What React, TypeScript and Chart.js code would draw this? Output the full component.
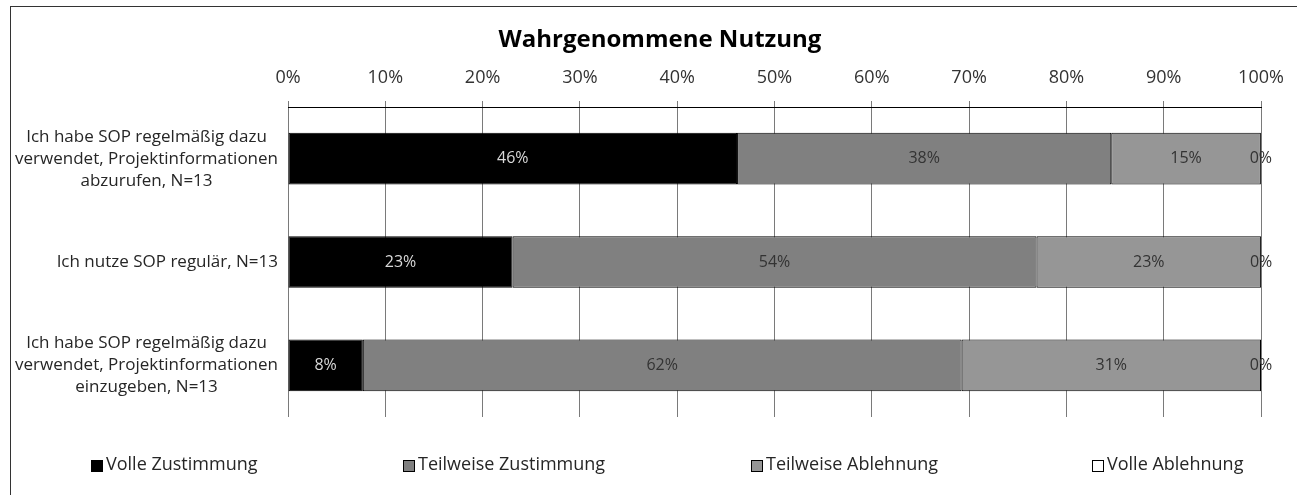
import React, { useEffect, useRef } from 'react';
import { Chart, registerables } from 'chart.js';

Chart.register(...registerables);

const FONT = '"Open Sans", "Noto Sans", sans-serif';

const titleText = 'Wahrgenommene Nutzung';

const categories: (string | string[])[] = [
  ['Ich habe SOP regelmäßig dazu', 'verwendet, Projektinformationen', 'abzurufen, N=13'],
  'Ich nutze SOP regulär, N=13',
  ['Ich habe SOP regelmäßig dazu', 'verwendet, Projektinformationen', 'einzugeben, N=13'],
];

const seriesNames = ['Volle Zustimmung', 'Teilweise Zustimmung', 'Teilweise Ablehnung', 'Volle Ablehnung'];

const volleZustimmung = [46.15, 23.08, 7.69];
const teilweiseZustimmung = [38.46, 53.85, 61.54];
const teilweiseAblehnung = [15.38, 23.08, 30.77];
const volleAblehnung = [0, 0, 0];

const seriesColors = ['#000000', '#808080', '#969696', '#ffffff'];
const labelColors = ['#d9d9d9', '#333333', '#333333', '#333333'];

// legend item centres in canvas pixels
const legendCenters = [163, 493, 833, 1156];

const titlePlugin = {
  id: 'customTitle',
  afterDraw(chart: any) {
    const ctx = chart.ctx;
    ctx.save();
    ctx.font = `bold 24px ${FONT}`;
    ctx.fillStyle = '#000000';
    ctx.textAlign = 'center';
    ctx.textBaseline = 'alphabetic';
    ctx.fillText(titleText, chart.width / 2 - 1, 40);
    ctx.restore();
  },
};

const yLabelPlugin = {
  id: 'yLabels',
  afterDraw(chart: any) {
    const ctx = chart.ctx;
    const yScale = chart.scales.y;
    ctx.save();
    ctx.font = `17px ${FONT}`;
    ctx.fillStyle = '#262626';
    ctx.textAlign = 'center';
    ctx.textBaseline = 'middle';
    const lineH = 22;
    const right = chart.chartArea.left - 10;
    categories.forEach((lab, i) => {
      const lines = Array.isArray(lab) ? lab : [lab];
      const w = Math.max(...lines.map((l) => ctx.measureText(l).width));
      const cx = right - w / 2;
      const cy = yScale.getPixelForTick(i);
      lines.forEach((l, j) => {
        const ly = cy + (j - (lines.length - 1) / 2) * lineH;
        ctx.fillText(l, cx, ly);
      });
    });
    ctx.restore();
  },
};

const dataLabelPlugin = {
  id: 'dataLabelPlugin',
  afterDatasetsDraw(chart: any) {
    const ctx = chart.ctx;
    ctx.save();
    ctx.font = `16px ${FONT}`;
    ctx.textAlign = 'center';
    ctx.textBaseline = 'middle';
    chart.data.datasets.forEach((ds: any, di: number) => {
      const meta = chart.getDatasetMeta(di);
      meta.data.forEach((bar: any, i: number) => {
        const v = ds.data[i];
        const p = bar.getProps(['x', 'y', 'base'], true);
        const cx = (p.x + p.base) / 2;
        ctx.fillStyle = labelColors[di];
        ctx.fillText(Math.round(v) + '%', cx, p.y);
      });
    });
    ctx.restore();
  },
};

const legendPlugin = {
  id: 'customLegend',
  afterDraw(chart: any) {
    const ctx = chart.ctx;
    ctx.save();
    ctx.font = `18px ${FONT}`;
    ctx.textBaseline = 'middle';
    ctx.textAlign = 'left';
    const y = chart.height - 30;
    const box = 11;
    const gap = 3;
    chart.data.datasets.forEach((ds: any, i: number) => {
      const tw = ctx.measureText(ds.label).width;
      const total = box + gap + tw;
      const cx = legendCenters[i];
      const sx = Math.round(cx - total / 2);
      const by = Math.round(y - box / 2) + 0.5;
      ctx.fillStyle = seriesColors[i];
      ctx.fillRect(sx + 0.5, by, box, box);
      ctx.strokeStyle = '#000';
      ctx.lineWidth = 1;
      ctx.strokeRect(sx + 0.5, by, box, box);
      ctx.fillStyle = '#262626';
      ctx.fillText(ds.label, sx + box + gap + 1, y);
    });
    ctx.restore();
  },
};

export default function App() {
  const canvasRef = useRef<HTMLCanvasElement | null>(null);

  useEffect(() => {
    if (!canvasRef.current) return;
    const seriesValues = [volleZustimmung, teilweiseZustimmung, teilweiseAblehnung, volleAblehnung];
    const chart = new Chart(canvasRef.current, {
      type: 'bar',
      data: {
        labels: categories,
        datasets: seriesValues.map((vals, i) => ({
          label: seriesNames[i],
          data: vals,
          backgroundColor: seriesColors[i],
          borderColor: '#000000',
          borderWidth: 1,
          borderSkipped: false,
          barPercentage: 0.5,
          categoryPercentage: 1,
        })),
      },
      options: {
        indexAxis: 'y',
        animation: false,
        responsive: true,
        maintainAspectRatio: false,
        layout: { padding: { left: 0, right: 50, top: 52, bottom: 78 } },
        plugins: {
          legend: { display: false },
          tooltip: { enabled: false },
          title: { display: false },
        },
        scales: {
          x: {
            position: 'top',
            stacked: true,
            min: 0,
            max: 100,
            ticks: {
              stepSize: 10,
              callback: (v: any) => v + '%',
              color: '#333333',
              font: { family: FONT, size: 18 },
              padding: 12,
              maxRotation: 0,
            },
            grid: { color: '#7a7a7a', tickColor: '#7a7a7a', tickLength: 6, drawTicks: true },
            border: { display: true, color: '#000000' },
            afterFit: (scale: any) => {
              scale.height = 48;
            },
          },
          y: {
            stacked: true,
            ticks: { display: false },
            grid: { display: false, drawTicks: false },
            border: { display: false },
            afterFit: (scale: any) => {
              scale.width = 277;
            },
          },
        },
      },
      plugins: [dataLabelPlugin, yLabelPlugin, titlePlugin, legendPlugin],
    } as any);
    return () => chart.destroy();
  }, []);

  return (
    <div
      style={{
        position: 'absolute',
        left: 10,
        top: 6,
        width: 1287,
        height: 489,
        borderLeft: '1px solid #333',
        borderTop: '1px solid #333',
        overflow: 'hidden',
        background: '#fff',
      }}
    >
      <div style={{ position: 'relative', width: 1300, height: 488 }}>
        <canvas ref={canvasRef} />
      </div>
    </div>
  );
}
